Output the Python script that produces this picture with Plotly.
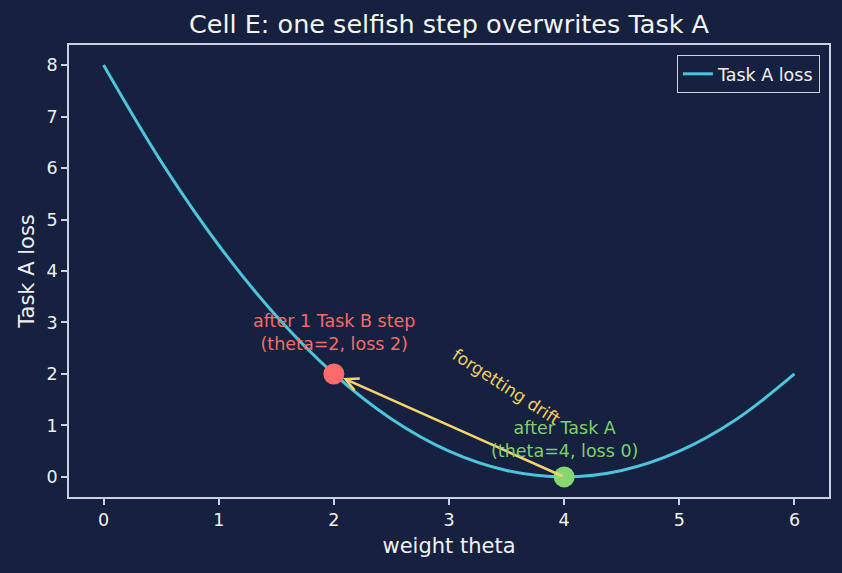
import plotly.graph_objects as go

theta = [0, 0.5, 1, 1.5, 2, 2.5, 3, 3.5, 4, 4.5, 5, 5.5, 6]
loss_a = [8, 6.125, 4.5, 3.125, 2, 1.125, 0.5, 0.125, 0, 0.125, 0.5, 1.125, 2]

start_theta, start_loss = 4, 0
after_theta, after_loss = 2, 2

BG = "#16213f"
AX = "#c9d1e3"
FONT = "DejaVu Sans"

fig = go.Figure()
fig.add_trace(go.Scatter(x=theta, y=loss_a, mode="lines", name="Task A loss",
                         line=dict(color="#4ec4dc", width=3, shape="spline")))
fig.add_annotation(x=after_theta, y=after_loss, ax=start_theta, ay=start_loss,
                   xref="x", yref="y", axref="x", ayref="y", text="", showarrow=True,
                   arrowhead=5, arrowsize=1, arrowwidth=2.5, arrowcolor="#f6d36b", standoff=10)
fig.add_trace(go.Scatter(x=[start_theta], y=[start_loss], mode="markers", showlegend=False,
                         marker=dict(color="#86d672", size=21)))
fig.add_trace(go.Scatter(x=[after_theta], y=[after_loss], mode="markers", showlegend=False,
                         marker=dict(color="#ff6b6b", size=21)))

fig.add_annotation(x=3.5, y=1.74, text="forgetting drift", showarrow=False, textangle=33,
                   font=dict(color="#f0cd62", size=17, family=FONT))
fig.add_annotation(x=2.0, y=2.8, text="after 1 Task B step<br>(theta=2, loss 2)", showarrow=False,
                   font=dict(color="#f36b6b", size=17.5, family=FONT))
fig.add_annotation(x=4.0, y=0.72, text="after Task A<br>(theta=4, loss 0)", showarrow=False,
                   font=dict(color="#7fcf6a", size=17.5, family=FONT))

axis_common = dict(showline=True, linecolor=AX, linewidth=1.5, mirror=True, showgrid=False,
                   zeroline=False, ticks="outside", ticklen=6, tickcolor=AX, tickwidth=1.5,
                   tickfont=dict(color="#f0f0f0", size=17.5, family=FONT),
                   title_font=dict(color="#f0f0f0", size=21, family=FONT))
fig.update_xaxes(range=[-0.3, 6.3], dtick=1, title_text="weight theta", title_standoff=10, **axis_common)
fig.update_yaxes(range=[-0.39, 8.39], dtick=1, title_text="Task A loss", title_standoff=6, **axis_common)

fig.update_layout(
    width=842, height=573, paper_bgcolor=BG, plot_bgcolor=BG,
    margin=dict(l=69, r=13, t=45, b=76),
    title=dict(text="Cell E: one selfish step overwrites Task A", x=0.5, xref="paper", xanchor="center",
               y=0.958, yanchor="middle", font=dict(color="#f4f4f4", size=25.5, family=FONT)),
    font=dict(family=FONT, color="#f0f0f0"),
    legend=dict(x=0.988, y=0.978, xanchor="right", yanchor="top", bgcolor=BG,
                bordercolor=AX, borderwidth=1, font=dict(size=17.5, color="#f0f0f0", family=FONT)),
    showlegend=True,
)

fig.write_html("out.html")
